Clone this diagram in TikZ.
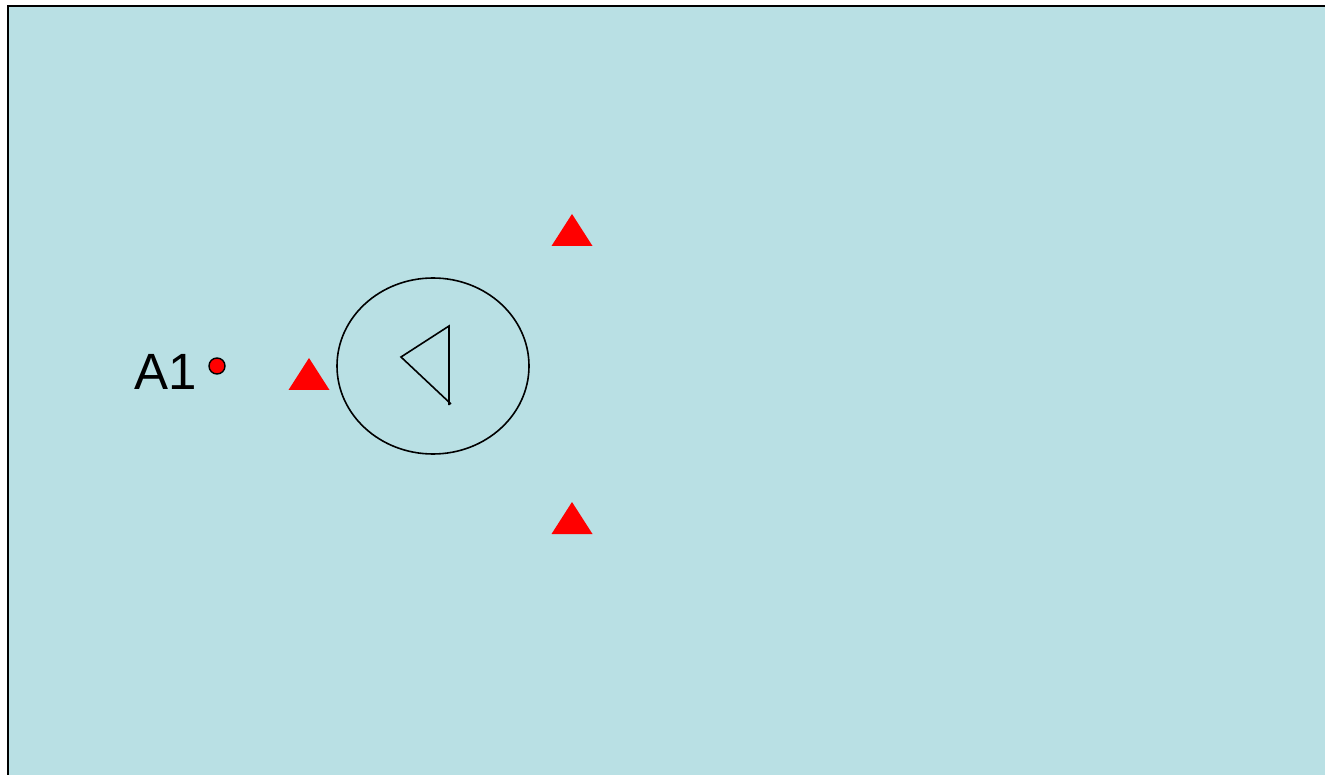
\documentclass[tikz,border=0pt]{standalone}
\usepackage{fontspec}
\setmainfont{Liberation Sans}
\usetikzlibrary{calc,shapes.geometric}
\definecolor{bgblue}{RGB}{185,224,228}
\definecolor{mred}{RGB}{255,0,0}
\begin{document}
\begin{tikzpicture}[x=1pt,y=-1pt,
  redtri/.style={fill=mred},
  outline/.style={draw=black,line width=1.6pt},
  lbl/.style={font=\fontsize{51}{60}\selectfont,inner sep=0pt,anchor=base}]
\useasboundingbox (0,0) rectangle (1325,775);
\begin{scope}
\clip (0,0) rectangle (1325,775);
\draw[fill=bgblue,line width=2pt] (8,6) rectangle (1340,790);
\end{scope}
% label and dot
\node[lbl] (a1) at (165.5,389) {A1};
\node[circle,draw=black,fill=mred,line width=1.4pt,minimum size=16pt,inner sep=0pt] (dot) at (217,366) {};
% red triangles
\coordinate (tl) at (309,374);
\coordinate (tt) at (572,230);
\coordinate (tb) at (572,518);
\foreach \c in {tl,tt,tb}{
  \fill[redtri] ($(\c)+(-20.5,16)$) -- ($(\c)+(0,-16)$) -- ($(\c)+(20.5,16)$) -- cycle;
}
% ellipse
\node[ellipse,outline,minimum width=192pt,minimum height=176pt,inner sep=0pt] (ell) at (433,366) {};
% inner triangle
\coordinate (p1) at (401,357);
\coordinate (p2) at (449,326);
\coordinate (p3) at (451,404);
\coordinate (p4) at (449,405);
\draw[outline,line join=miter] (p3) -- (p1) -- (p2) -- (p4);
\end{tikzpicture}
\end{document}
